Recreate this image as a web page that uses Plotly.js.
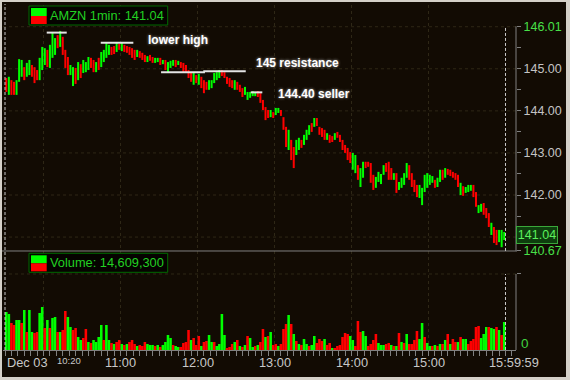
<!DOCTYPE html>
<html><head><meta charset="utf-8">
<script src="https://cdn.plot.ly/plotly-3.0.1.min.js"></script>
<style>
html,body{margin:0;padding:0;background:#d4d0c8;width:570px;height:380px;overflow:hidden}
#chart{position:absolute;left:2px;top:2px;width:564px;height:375px}
</style></head><body><div id="chart"></div>
<script>
// 2-minute bars (prices in $)
const highs = [
144.78,144.81,144.73,144.69,144.73,145.23,145.21,145.04,145.14,145.21,
145.09,145.04,144.97,145.26,145.52,145.49,145.45,145.57,145.85,145.73,
145.80,145.90,145.76,145.45,145.28,145.09,145.04,145.02,145.16,145.11,
145.21,145.16,145.28,145.26,145.21,145.16,145.26,145.40,145.45,145.61,
145.57,145.52,145.54,145.61,145.59,145.61,145.57,145.54,145.52,145.49,
145.45,145.45,145.42,145.38,145.33,145.30,145.33,145.28,145.26,145.26,
145.26,145.21,145.21,145.16,145.19,145.21,145.21,145.19,145.16,145.14,
145.09,144.97,144.92,144.90,144.85,144.88,144.81,144.73,144.69,144.73,
144.73,144.90,144.92,144.97,144.97,144.92,144.81,144.78,144.73,144.73,
144.69,144.62,144.54,144.57,144.45,144.45,144.47,144.45,144.47,144.42,
144.26,144.09,144.02,144.02,143.97,144.07,144.07,144.02,143.85,143.62,
143.55,143.31,143.14,143.31,143.36,143.31,143.43,143.55,143.66,143.71,
143.83,143.83,143.62,143.59,143.55,143.47,143.43,143.40,143.47,143.50,
143.43,143.31,143.19,143.12,143.02,143.00,142.95,142.71,142.64,142.79,
142.79,142.79,142.76,142.48,142.43,142.55,142.50,142.71,142.76,142.79,
142.64,142.52,142.52,142.31,142.41,142.52,142.76,142.71,142.52,142.36,
142.24,142.24,142.17,142.48,142.52,142.48,142.45,142.36,142.41,142.60,
142.60,142.64,142.62,142.60,142.55,142.52,142.48,142.29,142.21,142.19,
142.24,142.24,142.24,142.07,141.76,141.79,141.81,141.69,141.57,141.34,
141.24,141.17,141.17,141.17,141.12];
const lows = [
144.45,144.38,144.38,144.38,144.38,144.69,144.81,144.73,144.81,144.85,
144.81,144.66,144.73,144.73,144.97,145.09,145.04,145.02,145.26,145.33,
145.49,145.52,145.33,145.02,144.85,144.85,144.59,144.64,144.73,144.78,
144.90,144.92,144.97,145.02,144.92,144.92,144.97,145.04,145.16,145.26,
145.33,145.33,145.35,145.40,145.45,145.42,145.40,145.38,145.33,145.26,
145.21,145.28,145.26,145.21,145.16,145.16,145.19,145.14,145.14,145.16,
145.09,145.11,144.97,144.92,145.02,145.07,145.04,145.09,145.02,144.92,
144.92,144.78,144.69,144.62,144.66,144.62,144.54,144.42,144.50,144.50,
144.54,144.66,144.73,144.78,144.83,144.78,144.64,144.57,144.54,144.50,
144.50,144.45,144.33,144.38,144.26,144.31,144.35,144.35,144.33,144.19,
144.02,143.78,143.83,143.85,143.83,143.90,143.95,143.88,143.55,143.14,
143.07,142.83,142.64,142.95,143.07,143.12,143.19,143.31,143.43,143.50,
143.62,143.64,143.43,143.38,143.31,143.31,143.24,143.26,143.31,143.36,
143.26,143.07,143.00,142.83,142.76,142.60,142.52,142.36,142.19,142.41,
142.64,142.67,142.29,142.12,142.17,142.31,142.26,142.48,142.55,142.36,
142.36,142.36,142.05,142.12,142.17,142.24,142.41,142.36,142.19,142.07,
141.95,141.93,141.76,142.07,142.17,142.24,142.29,142.17,142.19,142.31,
142.36,142.41,142.48,142.45,142.41,142.36,142.19,142.00,141.98,142.05,
142.07,142.10,141.95,141.72,141.57,141.60,141.53,141.45,141.24,141.05,
140.86,140.81,140.88,140.76,140.93];
const priceUp = [
0,1,0,0,1,1,1,0,1,1, 0,0,0,1,1,1,0,1,1,1, 0,1,0,0,0,1,1,0,1,0, 1,1,1,0,0,1,0,1,1,1,
1,0,0,1,0,1,0,0,0,0, 0,1,0,0,0,1,0,0,1,1, 0,1,0,1,1,1,0,1,0,0, 0,0,0,1,0,1,0,0,0,1,
1,1,1,1,0,0,0,0,0,1, 0,0,0,1,1,1,1,1,0,0, 0,0,0,1,0,1,1,0,0,0, 1,0,0,1,1,0,1,1,1,0,
1,0,0,0,0,1,0,0,1,0, 0,0,0,0,0,1,1,0,1,1, 0,0,0,0,1,1,1,1,0,0, 0,1,0,1,1,1,1,0,0,0,
0,1,1,1,1,1,1,0,1,1, 0,1,0,0,0,0,0,1,0,1, 1,1,0,0,1,1,0,0,0,1, 0,0,1,1,1];
// volume per bar (shares)
const volumes = [
95000,90000,67500,62500,75000,75000,67500,100000,45000,100000,
45000,42500,45000,92500,107500,55000,75000,55000,80000,82500,
45000,45000,50000,97500,82500,57500,50000,55000,32500,25000,
30000,52500,20000,17500,25000,20000,32500,62500,25000,62500,
25000,17500,15000,20000,25000,15000,12500,15000,20000,25000,
15000,10000,12500,10000,20000,15000,12500,12500,10000,12500,
7500,12500,20000,37500,30000,12500,10000,7500,7500,17500,
20000,50000,25000,30000,12500,35000,10000,20000,22500,37500,
20000,20000,10000,15000,90000,37500,5000,7500,15000,20000,
25000,10000,7500,12500,35000,30000,7500,10000,12500,20000,
52500,32500,35000,45000,12500,15000,10000,15000,52500,65000,
87500,65000,40000,22500,15000,12500,27500,15000,10000,12500,
35000,17500,27500,22500,27500,12500,17500,5000,5000,10000,
12500,32500,42500,40000,35000,25000,10000,72500,45000,47500,
35000,10000,15000,25000,40000,17500,12500,12500,15000,17500,
12500,10000,10000,42500,20000,17500,40000,15000,15000,25000,
47500,27500,67500,32500,17500,10000,10000,12500,10000,15000,
15000,25000,40000,15000,27500,20000,20000,32500,27500,27500,
15000,22500,27500,57500,60000,30000,40000,57500,57500,55000,
52500,57500,50000,37500,70000];
const volUp = [
1,1,0,0,1,1,0,1,0,1, 1,0,0,1,1,0,1,0,1,1, 0,1,0,0,1,1,0,0,1,1, 0,0,1,0,1,1,1,1,0,1,
1,0,1,0,0,1,0,1,0,0, 0,1,0,0,0,1,1,1,0,1, 0,1,1,1,1,0,1,1,0,0, 0,0,1,0,0,0,1,0,0,1,
1,0,1,1,1,1,0,0,0,1, 0,1,0,1,0,1,1,0,1,0, 0,1,0,1,0,0,1,0,0,0, 1,0,1,0,1,0,1,1,0,1,
1,0,0,0,1,0,0,1,0,0, 0,0,0,0,1,1,0,0,0,1, 1,0,0,0,0,1,1,1,0,0, 1,0,1,0,1,0,1,0,0,0,
0,1,1,0,1,1,0,1,0,1, 0,1,0,1,0,0,1,0,1,1, 0,0,0,0,0,1,1,1,0,1, 1,0,1,0,1];

// axis labels / notes
const timeLabels = ['10:20','11:00','12:00','13:00','14:00','15:00'];
const timeLabelMin = [50, 90, 150, 210, 270, 330];
const priceTickVals = [146.01,145.5,145,144.5,144,143.5,143,142.5,142,141.5,141,140.67];
const priceTickText = ['146.01','','145.00','','144.00','','143.00','','142.00','','','140.67'];
const lastPrice = 141.04;
const gridHours = [30, 90, 150, 210, 270, 330];
const gridPrices = [141, 142, 143, 144, 145, 146];
const levelPrice = [145.86, 145.62, 144.92, 144.94, 144.44];
const levelFrom  = [32.5, 74.6, 121.6, 154.5, 191.5];
const levelTo    = [48.1, 100.0, 155.8, 187.6, 200.5];
const noteText  = ['lower high', '145 resistance', '144.40 seller'];
const noteMin   = [110.0, 194.2, 211.1];
const notePrice = [145.68, 145.13, 144.40];

const BG = '#120b03', GRID = '#2e2716', AX = '#808080';
const GREEN = '#00ff00', RED = '#ff0000';
const SANS = "'Liberation Sans',Arial,sans-serif";
const LBL = 12.8;
const SPLIT = 0.28613;

const mins = highs.map((_, i) => 2 * i + 1);

const priceTrace = {
  type: 'bar', x: mins, base: lows,
  y: highs.map((h, i) => +(h - lows[i]).toFixed(2)),
  width: 1.56, xaxis: 'x', yaxis: 'y', hoverinfo: 'skip',
  marker: {color: priceUp.map(u => u ? GREEN : RED), line: {width: 0}}
};
const volTrace = {
  type: 'bar', x: mins, y: volumes, width: 2, xaxis: 'x', yaxis: 'y2', hoverinfo: 'skip',
  marker: {color: volUp.map(u => u ? GREEN : RED), line: {width: 0}}
};

const shapes = [];
gridHours.forEach(h => shapes.push({type:'line', layer:'below', xref:'x', yref:'paper', x0:h, x1:h, y0:0, y1:1, line:{color:GRID, width:1, dash:'dot'}}));
gridPrices.forEach(p => shapes.push({type:'line', layer:'below', xref:'paper', yref:'y', x0:0, x1:1, y0:p, y1:p, line:{color:GRID, width:1, dash:'dot'}}));
shapes.push({type:'line', layer:'below', xref:'paper', yref:'y2', x0:0, x1:1, y0:190000, y1:190000, line:{color:GRID, width:1, dash:'dot'}});
// panel separator and axis lines
shapes.push({type:'line', xref:'paper', yref:'paper', x0:-0.004, x1:1.002, y0:SPLIT, y1:SPLIT, line:{color:AX, width:1}});
shapes.push({type:'line', xref:'paper', yref:'y', x0:1, x1:1, y0:140.67, y1:146.01, line:{color:AX, width:1}});
shapes.push({type:'line', xref:'paper', yref:'y2', x0:1, x1:1, y0:0, y1:190000, line:{color:AX, width:1}});
// session dashed lines
const DASH = {color:'#c8c8c8', width:1, dash:'3px,2px'};
shapes.push({type:'line', xref:'x', yref:'paper', x0:0, x1:0, y0:0, y1:1, line:DASH});
shapes.push({type:'line', xref:'x', yref:'y', x0:390, x1:390, y0:140.67, y1:146.01, line:DASH});
shapes.push({type:'line', xref:'x', yref:'y2', x0:390, x1:390, y0:0, y1:190000, line:DASH});
// drawn levels
levelPrice.forEach((p, i) => shapes.push({type:'line', xref:'x', yref:'y', x0:levelFrom[i], x1:levelTo[i], y0:p, y1:p, line:{color:'#e4e4e4', width:2}}));
// legend boxes
function legendBox(yTop, yBot) {
  const px = v => (v - 3) / 513, py = v => (350 - v) / 346;
  shapes.push({type:'rect', xref:'paper', yref:'paper', x0:px(29), x1:px(167.7), y0:py(yBot), y1:py(yTop), line:{color:'#006a00', width:1}, fillcolor:'#050300'});
  const mid = (yTop + yBot) / 2 + 0.5;
  shapes.push({type:'rect', xref:'paper', yref:'paper', x0:px(31), x1:px(46.7), y0:py(mid), y1:py(yTop + 2), line:{width:0}, fillcolor:GREEN});
  shapes.push({type:'rect', xref:'paper', yref:'paper', x0:px(31), x1:px(46.7), y0:py(yBot - 1), y1:py(mid), line:{width:0}, fillcolor:RED});
}
legendBox(6, 25);
legendBox(253.3, 272.3);

const annotations = [];
const legFont = {family: SANS, size: LBL, color: '#22d022'};
annotations.push({xref:'paper', yref:'paper', x:(48 - 3) / 513, y:(350 - 15.5) / 346, xanchor:'left', yanchor:'middle', showarrow:false, text:'AMZN 1min: 141.04', font:legFont});
annotations.push({xref:'paper', yref:'paper', x:(48 - 3) / 513, y:(350 - 262.8) / 346, xanchor:'left', yanchor:'middle', showarrow:false, text:'Volume: 14,609,300', font:legFont});
// time labels
const xFont = {family: SANS, size: LBL, color: '#c8c8c8'};
const XLY = (350 - 362.7) / 346;
annotations.push({xref:'x', yref:'paper', x:0, y:XLY, xanchor:'left', yanchor:'middle', showarrow:false, text:'Dec 03', font:xFont});
timeLabels.forEach((t, i) => annotations.push({xref:'x', yref:'paper', x:timeLabelMin[i], y: i === 0 ? (350 - 360.7) / 346 : XLY, xanchor:'center', yanchor:'middle', showarrow:false, text:t,
  font: i === 0 ? {family: SANS, size: 9.5, color: '#c8c8c8'} : xFont}));
annotations.push({xref:'x', yref:'paper', x:397, y:XLY, xanchor:'center', yanchor:'middle', showarrow:false, text:'15:59:59', font:xFont});
// notes
noteText.forEach((t, i) => annotations.push({xref:'x', yref:'y', x:noteMin[i], y:notePrice[i], xanchor:'left', yanchor:'middle', showarrow:false, text:'<b>' + t + '</b>',
  font:{family: SANS, size: 12, color: '#ffffff', shadow: '0px 0px 3px #a8a8a8'}}));
// last price box and volume zero
annotations.push({xref:'paper', yref:'y', x:1, y:lastPrice, xanchor:'left', yanchor:'middle', showarrow:false, text:lastPrice.toFixed(2),
  bgcolor:'#0e3e0e', bordercolor:'#3aa83a', borderwidth:1, borderpad:0, width:40, height:16, font:{family: SANS, size: 12.5, color: '#5cf05c'}});
annotations.push({xref:'paper', yref:'paper', x:1, xshift:3, y:(350 - 343.3) / 346, xanchor:'left', yanchor:'middle', showarrow:false, text:'0', font:{family: SANS, size: 13.5, color: '#40d040'}});

const greenTick = t => '<span style="color:#48e048">' + t + '</span>';
const tickText = priceTickText.map((t, i) => (i === 0 || i === priceTickText.length - 1) ? greenTick(t) : t);

const layout = {
  width: 564, height: 375, margin: {l: 1, r: 50, t: 2, b: 27},
  paper_bgcolor: BG, plot_bgcolor: BG, showlegend: false, barmode: 'overlay',
  xaxis: {range: [-1.56, 398.18], anchor: 'y2', tickmode: 'linear', tick0: 0, dtick: 5, ticks: 'outside', ticklen: 5,
    tickcolor: AX, showticklabels: false, showgrid: false, zeroline: false, showline: true, linecolor: AX, fixedrange: true},
  yaxis: {domain: [SPLIT, 1], range: [140.669, 146.54], side: 'right', anchor: 'x', tickmode: 'array',
    tickvals: priceTickVals, ticktext: tickText, ticks: 'outside', ticklen: 4, tickcolor: AX,
    tickfont: {family: SANS, size: 12.5, color: '#c4c4c4'}, showgrid: false, zeroline: false, showline: false, fixedrange: true},
  yaxis2: {domain: [0, SPLIT], range: [0, 247500], side: 'right', anchor: 'x', tickmode: 'array',
    tickvals: [190000], ticktext: [''], ticks: 'outside', ticklen: 4, tickcolor: AX,
    showgrid: false, zeroline: false, showline: false, fixedrange: true},
  shapes: shapes, annotations: annotations
};

Plotly.newPlot('chart', [volTrace, priceTrace], layout, {staticPlot: true, displayModeBar: false});
</script></body></html>
